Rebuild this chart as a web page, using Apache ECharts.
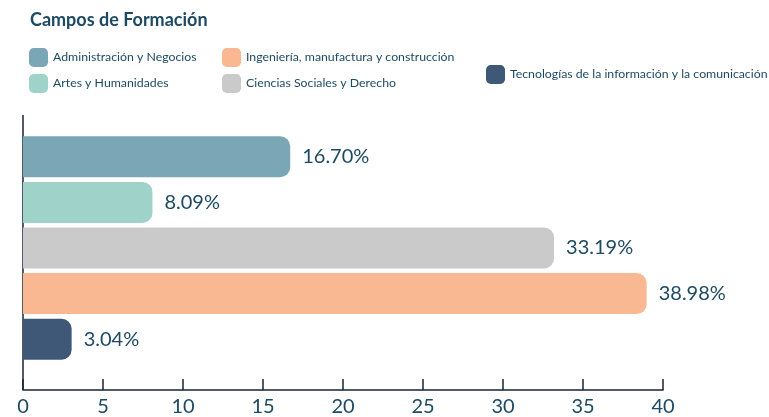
<!DOCTYPE html>
<html>
<head>
<meta charset="utf-8">
<script src="https://cdn.jsdelivr.net/npm/echarts@6/dist/echarts.min.js"></script>
<style>
  html, body { margin: 0; padding: 0; background: #ffffff; }
  #chart { width: 769px; height: 417px; }
</style>
</head>
<body>
<div id="chart"></div>
<script>
const categories = [
  "Administración y Negocios",
  "Artes y Humanidades",
  "Ciencias Sociales y Derecho",
  "Ingeniería, manufactura y construcción",
  "Tecnologías de la información y la comunicación"
];
const values = [16.70, 8.09, 33.19, 38.98, 3.04];
const colors = ["#7aa6b5", "#9fd2c9", "#cacaca", "#f9b892", "#3f5878"];
const xTicks = [0, 5, 10, 15, 20, 25, 30, 35, 40];

const textColor = "#1d4a63";
const axisColor = "#1b2433";
const font = "Lato, 'Noto Sans', sans-serif";

const chart = echarts.init(document.getElementById("chart"));

const series = categories.map((name, i) => ({
  name: name,
  type: "bar",
  stack: "all",
  barWidth: 41,
  itemStyle: { color: colors[i], borderRadius: [0, 10, 10, 0] },
  label: {
    show: true,
    position: "right",
    distance: 12,
    color: textColor,
    fontSize: 20,
    fontFamily: font,
    formatter: (p) => p.value.toFixed(2) + "%"
  },
  data: categories.map((c, j) => (j === i ? values[i] : "-"))
}));

const legendBase = {
  orient: "vertical",
  icon: "roundRect",
  itemWidth: 19,
  itemHeight: 19,
  itemGap: 7,
  padding: 0,
  selectedMode: false,
  textStyle: { color: textColor, fontSize: 12.3, fontFamily: font }
};

chart.setOption({
  backgroundColor: "#ffffff",
  animation: false,
  title: {
    text: "Campos de Formación",
    left: 25,
    top: 6,
    textStyle: { color: textColor, fontSize: 18, fontWeight: "bold", fontFamily: font }
  },
  legend: [
    Object.assign({}, legendBase, { left: 29, top: 48, data: [categories[0], categories[1]] }),
    Object.assign({}, legendBase, { left: 222, top: 48, data: [categories[3], categories[2]] }),
    Object.assign({}, legendBase, { left: 486, top: 65, data: [categories[4]] })
  ],
  grid: { left: 23, right: 106, top: 134, bottom: 55 },
  xAxis: {
    type: "value",
    min: 0,
    max: 40,
    interval: 5,
    offset: 28,
    axisLine: { show: true, lineStyle: { color: axisColor, width: 1.5 } },
    axisTick: { show: true, inside: true, length: 11, lineStyle: { color: axisColor, width: 1.5 } },
    axisLabel: {
      color: textColor,
      fontSize: 20,
      fontFamily: font,
      margin: 7,
      formatter: (v) => (xTicks.indexOf(v) >= 0 ? String(v) : "")
    },
    splitLine: { show: false }
  },
  yAxis: {
    type: "category",
    inverse: true,
    data: categories,
    axisLine: { show: false },
    axisTick: { show: false },
    axisLabel: { show: false }
  },
  graphic: [
    {
      type: "line",
      shape: { x1: 23, y1: 115, x2: 23, y2: 390 },
      style: { stroke: axisColor, lineWidth: 1.5 }
    }
  ],
  series: series
});
</script>
</body>
</html>
